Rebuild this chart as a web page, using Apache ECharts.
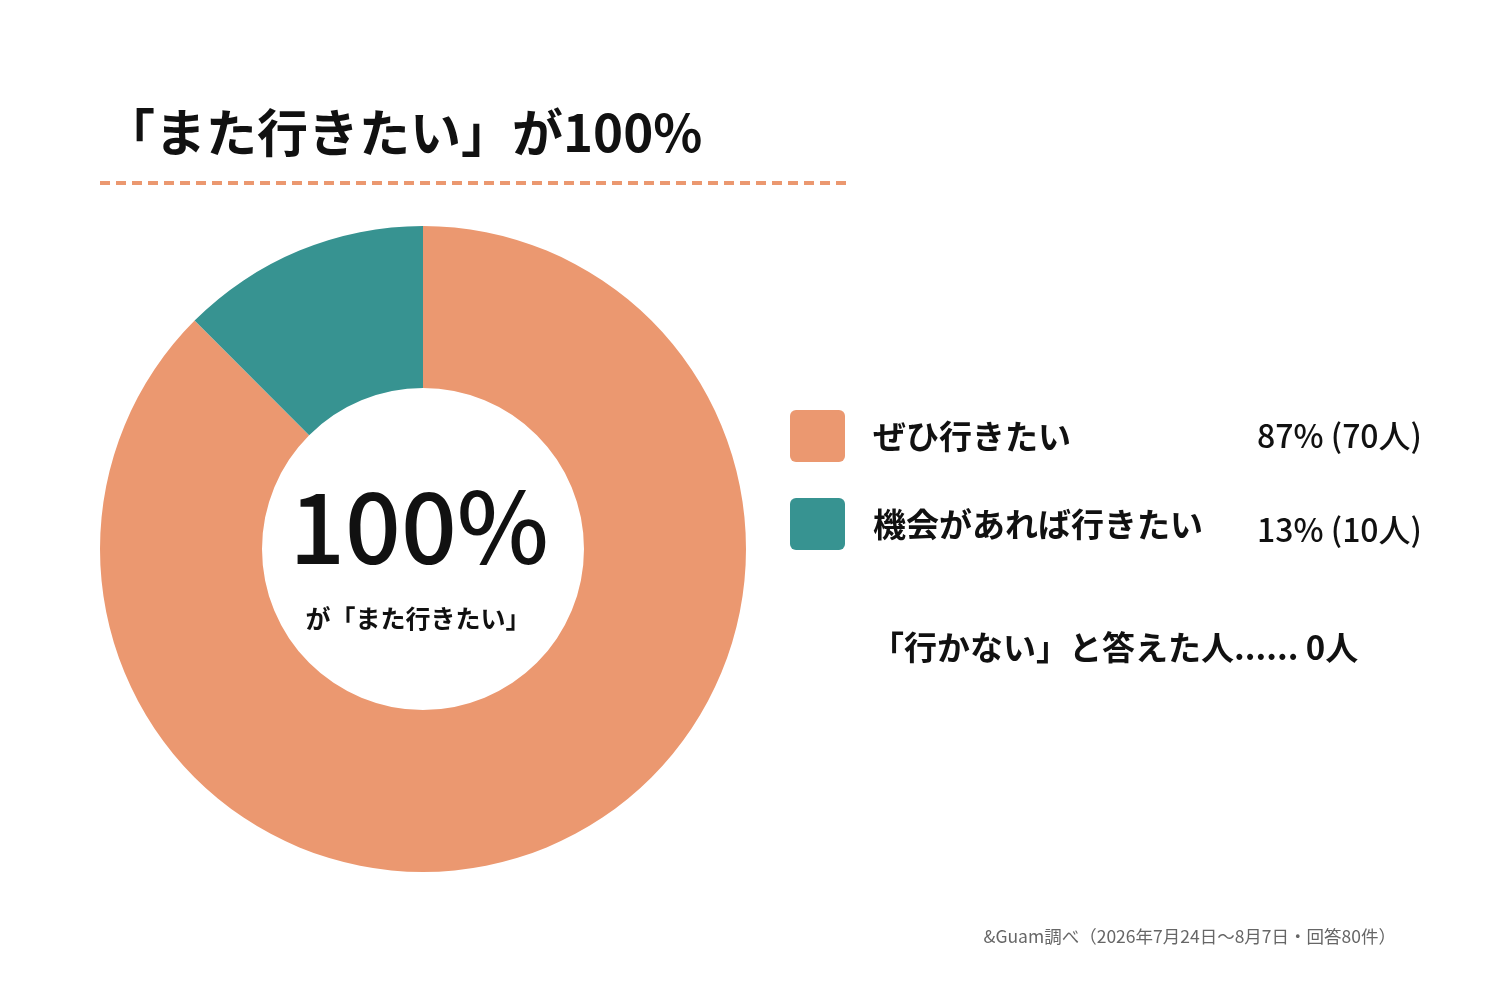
<!DOCTYPE html>
<html><head><meta charset="utf-8">
<script src="https://cdn.jsdelivr.net/npm/echarts@6/dist/echarts.min.js"></script>
<style>html,body{margin:0;padding:0;background:#fff}#c{width:1500px;height:1000px}</style>
</head><body><div id="c"></div>
<script>
const categories = ['ぜひ行きたい', '機会があれば行きたい'];
const counts = [70, 10];
const percents = [87, 13];
const noCount = 0;
const totalPercent = 100;
const titleText = '「また行きたい」が100%';
const centerSub = 'が「また行きたい」';
const noText = '「行かない」と答えた人......';
const sourceText = '&Guam調べ（2026年7月24日～8月7日・回答80件）';

const palette = ['#EB9870', '#379391'];
const FONT = '"Noto Sans CJK JP", "Noto Sans", sans-serif';

const chart = echarts.init(document.getElementById('c'));

const graphics = [
  { type: 'text', left: 104, top: 107, style: { text: titleText, font: 'bold 51px ' + FONT, fill: '#111' } },
  { type: 'line', shape: { x1: 100, y1: 183, x2: 847, y2: 183 }, style: { stroke: '#EB9870', lineWidth: 4, lineDash: [10, 6] } },
  { type: 'text', x: 419, y: 527, style: { text: totalPercent + '%', font: '500 98px ' + FONT, fill: '#111', align: 'center', verticalAlign: 'middle' } },
  { type: 'text', x: 418, y: 618, style: { text: centerSub, font: 'bold 25px ' + FONT, fill: '#111', align: 'center', verticalAlign: 'middle' } },
  { type: 'text', x: 871, y: 647, style: { text: noText + ' ' + noCount + '人', font: 'bold 33px ' + FONT, fill: '#111', align: 'left', verticalAlign: 'middle' } },
  { type: 'text', x: 1396, y: 936, style: { text: sourceText, font: '17.5px ' + FONT, fill: '#666', align: 'right', verticalAlign: 'middle' } }
];
const rowY = [436, 524];
categories.forEach((c, i) => {
  graphics.push({ type: 'rect', shape: { x: 790, y: rowY[i] - 26, width: 55, height: 52, r: 6 }, style: { fill: palette[i] } });
  graphics.push({ type: 'text', x: 873, y: rowY[i], style: { text: c, font: 'bold 33px ' + FONT, fill: '#111', align: 'left', verticalAlign: 'middle' } });
  graphics.push({ type: 'text', x: 1422, y: rowY[i] + (i === 1 ? 6 : 0), style: { text: percents[i] + '% (' + counts[i] + '人)', font: '500 32px ' + FONT, fill: '#111', align: 'right', verticalAlign: 'middle' } });
});

chart.setOption({
  animation: false,
  series: [{
    type: 'pie',
    center: [423, 549],
    radius: [161, 323],
    startAngle: 90,
    clockwise: true,
    label: { show: false },
    labelLine: { show: false },
    itemStyle: { borderWidth: 0 },
    emphasis: { disabled: true },
    data: categories.map((c, i) => ({ name: c, value: counts[i], itemStyle: { color: palette[i] } }))
  }],
  graphic: graphics
});
</script></body></html>
